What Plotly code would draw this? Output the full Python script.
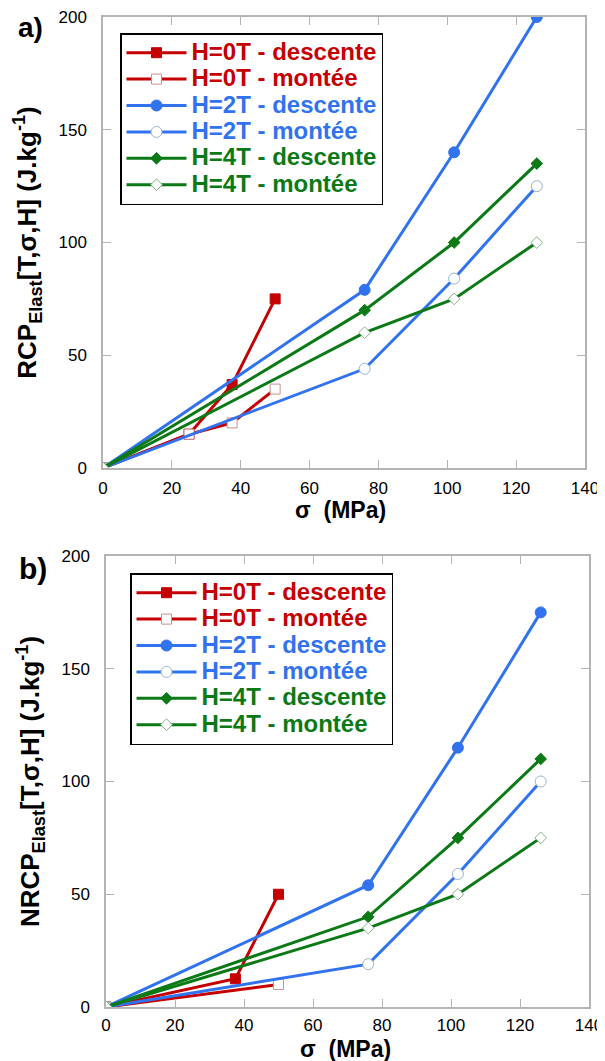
import plotly.graph_objects as go

# ---------------- data ----------------
# panel a) RCP
a_h0_desc_x = [0, 25, 37.5, 50]
a_h0_desc_y = [0, 15, 37, 75]
a_h0_mont_x = [0, 25, 37.5, 50]
a_h0_mont_y = [0, 15, 20, 35]
a_h2_desc_x = [0, 76, 102, 126]
a_h2_desc_y = [0, 79, 140, 200]
a_h2_mont_x = [0, 76, 102, 126]
a_h2_mont_y = [0, 44, 84, 125]
a_h4_desc_x = [0, 76, 102, 126]
a_h4_desc_y = [0, 70, 100, 135]
a_h4_mont_x = [0, 76, 102, 126]
a_h4_mont_y = [0, 60, 75, 100]

# panel b) NRCP
b_h0_desc_x = [0, 37.5, 50]
b_h0_desc_y = [0, 12.5, 50]
b_h0_mont_x = [0, 50]
b_h0_mont_y = [0, 10]
b_h2_desc_x = [0, 76, 102, 126]
b_h2_desc_y = [0, 54, 115, 175]
b_h2_mont_x = [0, 76, 102, 126]
b_h2_mont_y = [0, 19, 59, 100]
b_h4_desc_x = [0, 76, 102, 126]
b_h4_desc_y = [0, 40, 75, 110]
b_h4_mont_x = [0, 76, 102, 126]
b_h4_mont_y = [0, 35, 50, 75]

names = ["H=0T - descente", "H=0T - montée", "H=2T - descente",
         "H=2T - montée", "H=4T - descente", "H=4T - montée"]

x_ticks = [0, 20, 40, 60, 80, 100, 120, 140]
y_ticks = [0, 50, 100, 150, 200]

RED = "#c40000"
BLUE = "#3173ee"
GREEN = "#0b7a16"
FONT = "Liberation Sans, Arial, sans-serif"

styles = [
    dict(color=RED, symbol="square", size=10, fill=RED, edge=RED),
    dict(color=RED, symbol="square", size=10, fill="white", edge="#c89090"),
    dict(color=BLUE, symbol="circle", size=11, fill=BLUE, edge=BLUE),
    dict(color=BLUE, symbol="circle", size=11, fill="white", edge="#98b4cc"),
    dict(color=GREEN, symbol="diamond", size=9, fill=GREEN, edge=GREEN),
    dict(color=GREEN, symbol="diamond", size=9, fill="white", edge="#88b088"),
]

panel_a = [(a_h0_desc_x, a_h0_desc_y), (a_h0_mont_x, a_h0_mont_y),
           (a_h2_desc_x, a_h2_desc_y), (a_h2_mont_x, a_h2_mont_y),
           (a_h4_desc_x, a_h4_desc_y), (a_h4_mont_x, a_h4_mont_y)]
panel_b = [(b_h0_desc_x, b_h0_desc_y), (b_h0_mont_x, b_h0_mont_y),
           (b_h2_desc_x, b_h2_desc_y), (b_h2_mont_x, b_h2_mont_y),
           (b_h4_desc_x, b_h4_desc_y), (b_h4_mont_x, b_h4_mont_y)]

fig = go.Figure()

for panel, xa, ya, leg in [(panel_a, "x", "y", "legend"), (panel_b, "x2", "y2", "legend2")]:
    for (xs, ys), nm, st in zip(panel, names, styles):
        fig.add_trace(go.Scatter(
            x=xs, y=ys, mode="lines+markers", xaxis=xa, yaxis=ya, legend=leg,
            name="<span style='color:%s;font-size:24px'>%s</span>" % (st["color"], nm),
            line=dict(color=st["color"], width=3),
            marker=dict(symbol=st["symbol"], size=st["size"], color=st["fill"],
                        line=dict(color=st["edge"], width=1)),
        ))

# The page body adds an 8px offset; the figure is sized to fit the window.
OFF = 8
W, H = 605 - OFF, 1061 - OFF

def px(xp):
    return (xp - OFF) / W

def py(yp):
    return 1 - (yp - OFF) / H

axis_common = dict(
    showline=True, linecolor="#b4b4b4", linewidth=1.5, mirror="ticks",
    ticks="inside", ticklen=8, tickcolor="#b4b4b4", tickwidth=1,
    showgrid=False, zeroline=False, automargin=False, ticklabeloverflow="allow",
    tickfont=dict(family=FONT, size=17, color="black"),
)

legend_common = dict(
    bgcolor="white", bordercolor="black", borderwidth=1.5,
    font=dict(family=FONT, size=18, color="black", weight="bold"),
    xanchor="left", yanchor="top", itemwidth=60, tracegroupgap=0,
)

ytitle_font = dict(family=FONT, size=26, color="black", weight="bold")
xtitle_font = dict(family=FONT, size=23, color="black")

fig.update_layout(
    width=W, height=H,
    margin=dict(l=0, r=0, t=0, b=0, autoexpand=False),
    paper_bgcolor="white", plot_bgcolor="white",
    xaxis=dict(axis_common, domain=[px(103), px(585)], range=[0, 140],
               tickvals=x_ticks, anchor="y", ticklabelstandoff=4),
    yaxis=dict(axis_common, domain=[py(468), py(17)], range=[0, 200],
               tickvals=y_ticks, anchor="x", ticklabelstandoff=11,
               title=dict(text="<b>RCP<sub>Elast</sub>[T,σ,H] (J.kg<sup>-1</sup>)</b>",
                          font=ytitle_font, standoff=14)),
    xaxis2=dict(axis_common, domain=[px(106), px(589)], range=[0, 140],
                tickvals=x_ticks, anchor="y2", ticklabelstandoff=2),
    yaxis2=dict(axis_common, domain=[py(1007), py(556)], range=[0, 200],
                tickvals=y_ticks, anchor="x2", ticklabelstandoff=11,
                title=dict(text="<b>NRCP<sub>Elast</sub>[T,σ,H] (J.kg<sup>-1</sup>)</b>",
                           font=ytitle_font, standoff=14)),
    legend=dict(legend_common, x=px(120), y=py(33)),
    legend2=dict(legend_common, x=px(130), y=py(573)),
    showlegend=True,
    annotations=[
        dict(text="<b>σ  (MPa)</b>", x=px(340), y=py(510), xref="paper", yref="paper",
             xanchor="center", yanchor="middle", showarrow=False, font=xtitle_font),
        dict(text="<b>σ  (MPa)</b>", x=px(345), y=py(1049), xref="paper", yref="paper",
             xanchor="center", yanchor="middle", showarrow=False, font=xtitle_font),
        dict(text="<b>a)</b>", x=px(30), y=py(28), xref="paper", yref="paper",
             xanchor="center", yanchor="middle",
             showarrow=False, font=dict(family=FONT, size=28, color="black")),
        dict(text="<b>b)</b>", x=px(33), y=py(568), xref="paper", yref="paper",
             xanchor="center", yanchor="middle",
             showarrow=False, font=dict(family=FONT, size=30, color="black")),
    ],
)

fig.write_html("out.html")
